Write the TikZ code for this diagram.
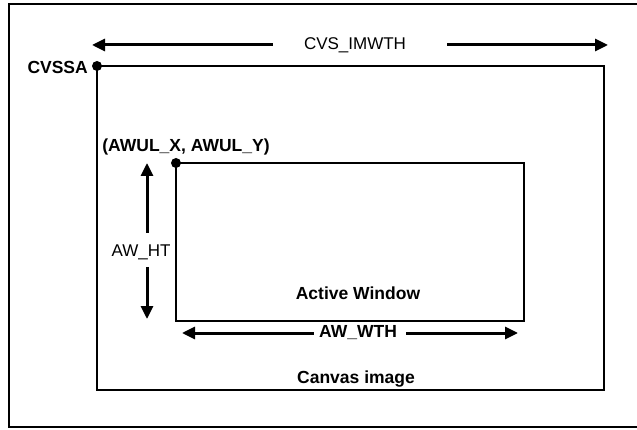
\documentclass[tikz,border=0pt]{standalone}
\usepackage{fontspec}
\setmainfont{Liberation Sans}
\usetikzlibrary{arrows.meta}
\begin{document}
\begin{tikzpicture}[x=1pt,y=-1pt,
  frame/.style={draw=black,line width=2pt},
  box/.style={draw=black,line width=1.3pt},
  dimarrow/.style={line width=3pt,-{Triangle[length=13pt,width=12pt]}},
  dot/.style={circle,fill=black,inner sep=0pt,minimum size=10pt},
  lbl/.style={font=\fontsize{17}{20}\selectfont,inner sep=1pt},
  blbl/.style={font=\fontsize{17.5}{20}\selectfont\bfseries,inner sep=1pt}]
\useasboundingbox (0,0) rectangle (637,430);
% outer frame (right side beyond the picture)
\draw[frame] (645,4) -- (9,4) -- (9,427) -- (645,427);
% canvas image
\draw[box] (97,66) rectangle (604,390);
\node[dot] (cvssa) at (97,66) {};
\node[blbl,anchor=east] (cvssalbl) at (89,67) {CVSSA};
\node[lbl] (imwth) at (355,45) {CVS\_IMWTH};
\coordinate (imwthL) at (92,45);
\coordinate (imwthR) at (608,45);
\draw[dimarrow] (imwth.west) ++(-30,0) -- (imwthL);
\draw[dimarrow] (imwth.east) ++(40,0) -- (imwthR);
\node[blbl] (canvas) at (356,379) {Canvas image};
% active window
\draw[box] (176,163) rectangle (524,321);
\node[dot] (awul) at (176,163) {};
\node[blbl] (awullbl) at (186,147) {(AWUL\_X, AWUL\_Y)};
\node[blbl] (active) at (358,293) {Active Window};
\node[lbl] (awht) at (141,252) {AW\_HT};
\coordinate (htT) at (147,163);
\coordinate (htB) at (147,319);
\coordinate (htA) at (147,233);
\coordinate (htC) at (147,267);
\draw[dimarrow] (htA) -- (htT);
\draw[dimarrow] (htC) -- (htB);
\node[blbl] (awwth) at (358,333) {AW\_WTH};
\coordinate (wL) at (182,333);
\coordinate (wR) at (518,333);
\draw[dimarrow] (awwth.west) ++(-4,0) -- (wL);
\draw[dimarrow] (awwth.east) ++(8,0) -- (wR);
\end{tikzpicture}
\end{document}
